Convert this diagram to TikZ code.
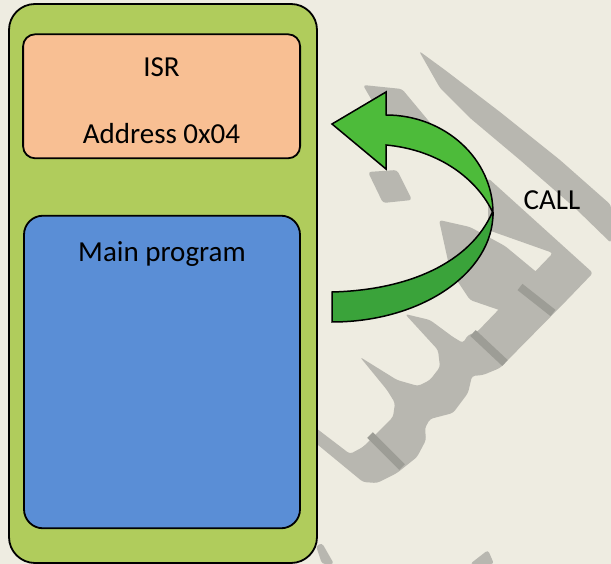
\documentclass[tikz,border=0pt]{standalone}
\usepackage{fontspec}
\setmainfont{Carlito}
\definecolor{bg}{HTML}{EEECE1}
\definecolor{wm}{HTML}{B8B7B0}
\definecolor{wmdark}{HTML}{9D9D96}
\definecolor{memfill}{HTML}{B0CC5C}
\definecolor{isrfill}{HTML}{F8BF93}
\definecolor{mainfill}{HTML}{5A8ED6}
\definecolor{arrowlight}{HTML}{4DBB3A}
\definecolor{arrowdark}{HTML}{3AA33A}
\tikzset{
  box/.style={draw=black, line width=1.8pt, rectangle, inner sep=0pt, outer sep=0pt},
  lbl/.style={font=\fontsize{29}{34}\selectfont, inner sep=0pt, anchor=base, text=black},
  wmshape/.style={fill=wm, draw=none, rounded corners=3pt},
  wmstripe/.style={draw=wmdark, line width=8pt},
  arrowpart/.style={draw=black, line width=1.5pt, line join=miter},
}
\begin{document}
\begin{tikzpicture}[x=1pt,y=-1pt]
\fill[bg] (0,0) rectangle (611,564);
\useasboundingbox (0,0) rectangle (611,564);
% watermark
\fill[wmshape] (419,51) -- (445,70) -- (500,112) -- (560,160) -- (611,205) -- (611,243) -- (575,208) -- (520,160) -- (470,118) -- (440,88) -- cycle;
\fill[wmshape] (363,85) -- (402,89) -- (432,125) -- (386,125) -- cycle;
\fill[wmshape] (368,172) -- (397,170) -- (412,200) -- (383,203) -- cycle;
\fill[wmshape] (488,178) -- (593,273) -- (567,300) -- (500,368) -- (483,375) -- (472,376) -- (468,393) -- (453,413) -- (430,419) -- (425,428) -- (426,440) -- (417,457) -- (397,473) -- (377,483) -- (363,482) -- (312,440) -- (312,425) -- (350,454) -- (363,447) -- (393,417) -- (395,403) -- (387,390) -- (360,357) -- (397,380) -- (418,386) -- (430,380) -- (440,367) -- (438,350) -- (405,314) -- (430,320) -- (453,337) -- (463,343) -- (468,335) -- (477,332) -- (553,253) -- (488,230) -- cycle;
\fill[wmshape] (439,220) -- (470,227) -- (505,246) -- (540,275) -- (505,312) -- (470,300) -- (450,270) -- cycle;
\fill[wmshape] (470,564) -- (488,550) -- (494,564) -- cycle;
\fill[wmshape] (316,546) -- (322,543) -- (334,564) -- (322,564) -- cycle;
\draw[wmstripe] (520,287) -- (553,313);
\draw[wmstripe] (473,333) -- (505,363);
\draw[wmstripe] (370,435) -- (402,467);
% memory boxes
\node[box, fill=memfill, rounded corners=26pt, minimum width=308pt, minimum height=559pt] (mem) at (163,283.5) {};
\node[box, fill=isrfill, rounded corners=12pt, minimum width=277pt, minimum height=124pt] (isr) at (161.6,96.3) {};
\node[box, fill=mainfill, rounded corners=19pt, minimum width=276pt, minimum height=312.6pt] (main) at (162,372) {};
\node[lbl] (isrtxt) at (161.5,77) {ISR};
\node[lbl] (addrtxt) at (161.5,144) {Address 0x04};
\node[lbl] (maintxt) at (162,262) {Main program};
\node[lbl] (calltxt) at (552,210) {CALL};
% curved arrow
\draw[arrowpart, fill=arrowdark] (493,213) .. controls (493,273) and (421,322) .. (332,322) -- (332,292) .. controls (410,290) and (470,262) .. (492,213) -- cycle;
\draw[arrowpart, fill=arrowlight] (332,124) -- (386,92) -- (386,115) .. controls (445,115) and (493,159) .. (493,213) .. controls (478,180) and (440,150) .. (386,145) -- (386,169) -- cycle;
\end{tikzpicture}
\end{document}
